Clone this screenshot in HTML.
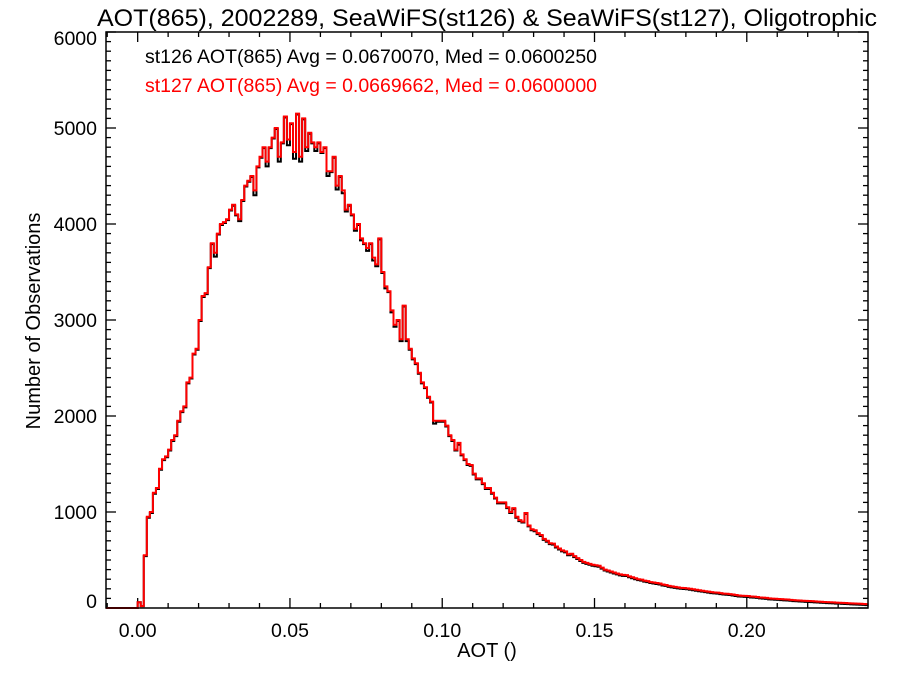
<!DOCTYPE html>
<html><head><meta charset="utf-8"><style>
body{margin:0;background:#fff}
svg{display:block;font-family:"Liberation Sans",sans-serif}
</style></head><body>
<svg id="chart" width="900" height="675" viewBox="0 0 900 675">
<text x="487" y="26" text-anchor="middle" font-size="24.5" textLength="780" lengthAdjust="spacingAndGlyphs">AOT(865), 2002289, SeaWiFS(st126) &amp; SeaWiFS(st127), Oligotrophic</text>
<text x="145" y="63" font-size="19.5" fill="#000" textLength="452" lengthAdjust="spacingAndGlyphs">st126 AOT(865) Avg = 0.0670070, Med = 0.0600250</text>
<text x="145" y="92" font-size="19.5" fill="#f00" textLength="452" lengthAdjust="spacingAndGlyphs">st127 AOT(865) Avg = 0.0669662, Med = 0.0600000</text>
<text transform="translate(40,321) rotate(-90)" text-anchor="middle" font-size="20">Number of Observations</text>
<text x="487" y="657" text-anchor="middle" font-size="20">AOT ()</text>
<g id="axes"></g>
<g id="series"></g>
<rect x="106" y="32" width="762" height="576" fill="none" stroke="#000" stroke-width="1.5"/>
</svg>
<script>
const binStart = 0.0, binWidth = 0.001;
const red127 = [60,20,550,950,1000,1200,1250,1450,1550,1580,
1650,1750,1800,1950,2050,2100,2350,2400,2650,2700,
3000,3250,3280,3550,3800,3700,3900,4000,4020,4050,
4150,4200,4100,4050,4250,4400,4450,4500,4350,4600,
4700,4800,4650,4800,4900,5000,4700,4850,5120,4880,
5050,4750,5150,4700,5100,4800,4950,4850,4800,4850,
4750,4800,4550,4550,4700,4400,4500,4350,4150,4200,
4100,3950,4000,3850,3800,3750,3800,3650,3580,3850,
3500,3350,3300,3100,2950,3000,2800,3150,2800,2700,
2600,2550,2450,2350,2300,2200,2150,1950,1950,1950,
1950,1900,1800,1750,1650,1720,1600,1550,1500,1490,
1400,1350,1350,1300,1250,1250,1200,1150,1100,1100,
1100,1050,1000,1040,950,915,900,990,860,820,
810,780,760,720,700,675,670,640,620,600,
590,560,565,540,520,500,480,470,460,450,
445,440,420,400,390,380,370,360,350,345,
343,330,320,310,300,295,285,280,270,265,
260,255,245,240,230,225,220,215,210,208,
205,200,195,190,185,180,175,170,165,162,
160,155,150,148,145,140,135,130,128,126,
125,120,118,115,110,108,105,100,98,96,
94,92,90,88,85,82,80,78,76,74,
73,71,69,67,65,63,61,60,58,56,
55,53,52,50,48,47,45,44,42,40];
const black126 = [60,20,540,940,990,1190,1240,1440,1540,1570,
1640,1740,1790,1940,2040,2090,2340,2390,2640,2690,
2990,3240,3270,3540,3790,3660,3890,3990,4010,4040,
4140,4190,4090,4030,4240,4390,4440,4490,4300,4590,
4690,4790,4600,4790,4890,4990,4650,4840,5110,4820,
5040,4680,5140,4650,5090,4760,4940,4840,4760,4840,
4740,4790,4500,4540,4690,4360,4490,4320,4130,4190,
4090,3930,3990,3830,3790,3720,3790,3620,3560,3840,
3490,3330,3290,3080,2930,2990,2780,3140,2780,2690,
2590,2540,2440,2340,2290,2190,2140,1920,1940,1940,
1940,1890,1790,1740,1640,1700,1590,1540,1490,1480,
1390,1340,1340,1290,1240,1240,1190,1140,1090,1090,
1090,1040,990,1030,940,905,890,980,850,810,
800,770,750,710,690,665,660,630,610,590,
580,550,555,530,510,490,470,460,450,440,
435,430,410,390,380,370,360,350,340,335,
333,320,310,300,290,285,275,270,260,255,
250,245,235,230,220,215,210,205,200,198,
195,190,185,180,175,170,165,160,155,152,
150,145,140,138,135,130,125,120,118,116,
115,110,108,105,100,98,95,90,88,86,
84,82,80,78,75,72,70,68,66,64,
63,61,59,57,55,53,51,50,48,46,
45,43,42,40,38,37,35,34,32,30];
const xTicks = [0.00,0.05,0.10,0.15,0.20];
const xTickLabels = ["0.00","0.05","0.10","0.15","0.20"];
const yTicks = [0,1000,2000,3000,4000,5000,6000];
const yTickLabels = ["0","1000","2000","3000","4000","5000","6000"];

const X0=106,X1=868,Y0=608,Y1=32, xmin=-0.0104, xmax=0.2398, ymin=0, ymax=6000;
const sx=v=>X0+(v-xmin)/(xmax-xmin)*(X1-X0);
const sy=v=>Y0-(v-ymin)/(ymax-ymin)*(Y0-Y1);
const NS="http://www.w3.org/2000/svg";
const axes=document.getElementById('axes'), series=document.getElementById('series');
function line(x1,y1,x2,y2){const l=document.createElementNS(NS,'line');
l.setAttribute('x1',x1);l.setAttribute('y1',y1);l.setAttribute('x2',x2);l.setAttribute('y2',y2);
l.setAttribute('stroke','#000');l.setAttribute('stroke-width','1.3');


axes.appendChild(l);}
for(let k=-1;k<=24;k++){const v=k*0.01;const x=sx(v);if(x<X0-0.5||x>X1+0.5)continue;
const len=(k%5===0)?10:5;line(x,Y0,x,Y0-len);line(x,Y1,x,Y1+len);}
for(let k=0;k<=60;k++){const v=k*100;const y=sy(v);const len=(k%10===0)?10:5;
line(X0,y,X0+len,y);line(X1,y,X1-len,y);}
xTicks.forEach((v,i)=>{const t=document.createElementNS(NS,'text');
t.setAttribute('x',sx(v));t.setAttribute('y',637);t.setAttribute('text-anchor','middle');t.setAttribute('font-size','19.5');


t.textContent=xTickLabels[i];axes.appendChild(t);});
yTicks.forEach((v,i)=>{const t=document.createElementNS(NS,'text');
const y=Math.min(601,Math.max(38,sy(v)));
t.setAttribute('x',97);t.setAttribute('y',y+7);t.setAttribute('text-anchor','end');t.setAttribute('font-size','19.5');


t.textContent=yTickLabels[i];axes.appendChild(t);});
function stepPath(arr,color,name){
let d='M'+X0+','+sy(0)+' L'+sx(binStart)+','+sy(0);
arr.forEach((v,i)=>{const a=sx(binStart+i*binWidth),b=sx(binStart+(i+1)*binWidth);
d+=' L'+a+','+sy(v)+' L'+b+','+sy(v);});
const p=document.createElementNS(NS,'path');p.setAttribute('d',d);p.setAttribute('fill','none');
p.setAttribute('stroke',color);p.setAttribute('stroke-width','2');


series.appendChild(p);}
stepPath(black126,'#000','series-st126');
stepPath(red127,'#f00','series-st127');
</script>
</body></html>
